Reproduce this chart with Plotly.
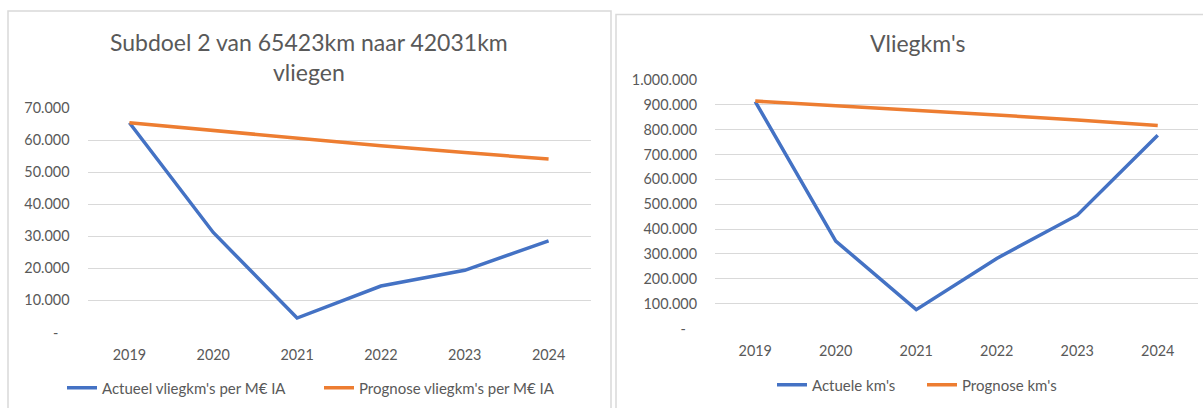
import plotly.graph_objects as go

years = ["2019", "2020", "2021", "2022", "2023", "2024"]

# Left chart: vliegkm's per M€ IA
actueel_per_me = [65400, 31200, 4500, 14500, 19400, 28600]
prognose_per_me = [65400, 63000, 60600, 58200, 56100, 54100]
left_tickvals = [0, 10000, 20000, 30000, 40000, 50000, 60000, 70000]
left_ticktext = ["-\u00a0\u00a0\u00a0", "10.000", "20.000", "30.000", "40.000", "50.000", "60.000", "70.000"]

# Right chart: vliegkm's
actuele_km = [913000, 352000, 76000, 282000, 456000, 778000]
prognose_km = [915000, 897000, 877000, 859000, 839000, 817000]
right_tickvals = [0, 100000, 200000, 300000, 400000, 500000, 600000, 700000, 800000, 900000, 1000000]
right_ticktext = ["-\u00a0\u00a0\u00a0", "100.000", "200.000", "300.000", "400.000", "500.000",
                  "600.000", "700.000", "800.000", "900.000", "1.000.000"]

W, H = 1203, 408
BLUE = "#4472C4"
ORANGE = "#ED7D31"
GRID = "#D9D9D9"
TXT = "#595959"
FONT = "Lato"

def px(x):
    return x / W

def py(y):
    return 1 - y / H

fig = go.Figure()
fig.add_trace(go.Scatter(x=years, y=actueel_per_me, mode="lines", name="Actueel vliegkm's per M€ IA",
                         line=dict(color=BLUE, width=3.5), xaxis="x", yaxis="y", legend="legend"))
fig.add_trace(go.Scatter(x=years, y=prognose_per_me, mode="lines", name="Prognose vliegkm's per M€ IA",
                         line=dict(color=ORANGE, width=3.5), xaxis="x", yaxis="y", legend="legend"))
fig.add_trace(go.Scatter(x=years, y=actuele_km, mode="lines", name="Actuele km's",
                         line=dict(color=BLUE, width=3.5), xaxis="x2", yaxis="y2", legend="legend2"))
fig.add_trace(go.Scatter(x=years, y=prognose_km, mode="lines", name="Prognose km's",
                         line=dict(color=ORANGE, width=3.5), xaxis="x2", yaxis="y2", legend="legend2"))

xcommon = dict(type="category", range=[-0.5, 5.5], showgrid=False, zeroline=False, showline=False,
               ticks="", tickfont=dict(family=FONT, size=14.4, color=TXT), ticklabelstandoff=12,
               fixedrange=True, automargin=False)
ycommon = dict(showgrid=True, gridcolor=GRID, gridwidth=1, zeroline=False, showline=False, ticks="",
               tickfont=dict(family=FONT, size=14.4, color=TXT), ticklabelstandoff=17, fixedrange=True,
               automargin=False)

legend_common = dict(orientation="h", xanchor="left", yanchor="middle",
                     font=dict(family=FONT, size=15, color=TXT), bgcolor="rgba(0,0,0,0)",
                     itemclick=False, itemdoubleclick=False, entrywidthmode="pixels")

fig.update_layout(
    width=W, height=H,
    margin=dict(l=0, r=0, t=0, b=0, pad=0, autoexpand=False),
    paper_bgcolor="white", plot_bgcolor="white",
    font=dict(family=FONT, color=TXT),
    xaxis=dict(domain=[px(87.5), px(590.5)], anchor="y", **xcommon),
    yaxis=dict(domain=[py(332.5), py(108)], anchor="x", range=[0, 70000],
               tickmode="array", tickvals=left_tickvals, ticktext=left_ticktext, **ycommon),
    xaxis2=dict(domain=[px(715), px(1198)], anchor="y2", **xcommon),
    yaxis2=dict(domain=[py(328.5), py(80)], anchor="x2", range=[0, 1000000],
                tickmode="array", tickvals=right_tickvals, ticktext=right_ticktext, **ycommon),
    legend=dict(x=px(62), y=py(388), entrywidth=212, **legend_common),
    legend2=dict(x=px(772), y=py(385), entrywidth=105, **legend_common),
    showlegend=True,
    annotations=[
        dict(text="Subdoel 2 van 65423km naar 42031km", x=px(309), y=py(42), xref="paper", yref="paper",
             xanchor="center", yanchor="middle", showarrow=False,
             font=dict(family=FONT, size=23, color=TXT)),
        dict(text="vliegen", x=px(309), y=py(72), xref="paper", yref="paper",
             xanchor="center", yanchor="middle", showarrow=False,
             font=dict(family=FONT, size=23, color=TXT)),
        dict(text="Vliegkm's", x=px(917), y=py(43), xref="paper", yref="paper",
             xanchor="center", yanchor="middle", showarrow=False,
             font=dict(family=FONT, size=23, color=TXT)),
    ],
    shapes=[
        dict(type="rect", xref="paper", yref="paper", x0=px(8), x1=px(611), y0=py(420), y1=py(11),
             line=dict(color=GRID, width=1.5), fillcolor="rgba(0,0,0,0)", layer="below"),
        dict(type="rect", xref="paper", yref="paper", x0=px(616), x1=px(1215), y0=py(420), y1=py(14.5),
             line=dict(color=GRID, width=1.5), fillcolor="rgba(0,0,0,0)", layer="below"),
    ],
)

fig.write_html("out.html", config={"displayModeBar": False},
               post_script="document.body.style.margin='0px';document.body.style.overflow='hidden';")
